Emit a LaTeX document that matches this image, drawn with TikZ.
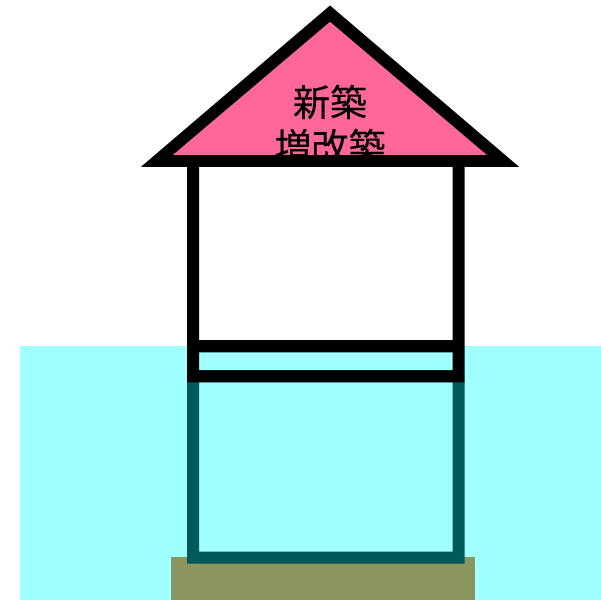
\documentclass[tikz,border=0pt]{standalone}
\usepackage{fontspec}
\newfontfamily\cjk[FakeBold=0.25]{Noto Sans CJK JP}
\definecolor{water}{HTML}{A0FFFF}
\definecolor{submerged}{HTML}{005A5A}
\definecolor{groundc}{HTML}{8A9560}
\definecolor{roofc}{HTML}{FF6699}
\tikzset{
  px/.style={x=0.75pt,y=-0.75pt},
  roofword/.style={font=\cjk\fontsize{27.8}{33}\selectfont,align=center,inner sep=0pt,text=black},
}
\begin{document}
\begin{tikzpicture}[px]
\useasboundingbox (0,0) rectangle (601,600);
\fill[white] (0,0) rectangle (601,600);
% water and ground
\fill[water] (20,346) rectangle (601,600);
\fill[groundc] (170.7,556.7) rectangle (475.3,600);
% submerged walls
\fill[submerged,even odd rule] (187,382) rectangle (464.5,563.7) (199,370) rectangle (452.7,551.7);
% upper walls and bands
\fill[black,even odd rule] (187,160) rectangle (464.5,382.3)
  (199,160) rectangle (452.7,340)
  (199,352.3) rectangle (452.7,370.3);
% roof
\fill[roofc] (330,21.7) -- (487,155) -- (172.7,155) -- cycle;
\node[roofword] (roofText) at (330,124) {新築\\[0pt]増改築};
\fill[black,even odd rule] (330,5.5) -- (519,166.8) -- (141,166.8) -- cycle
  (330,21.7) -- (487,155) -- (172.7,155) -- cycle;
\end{tikzpicture}
\end{document}
